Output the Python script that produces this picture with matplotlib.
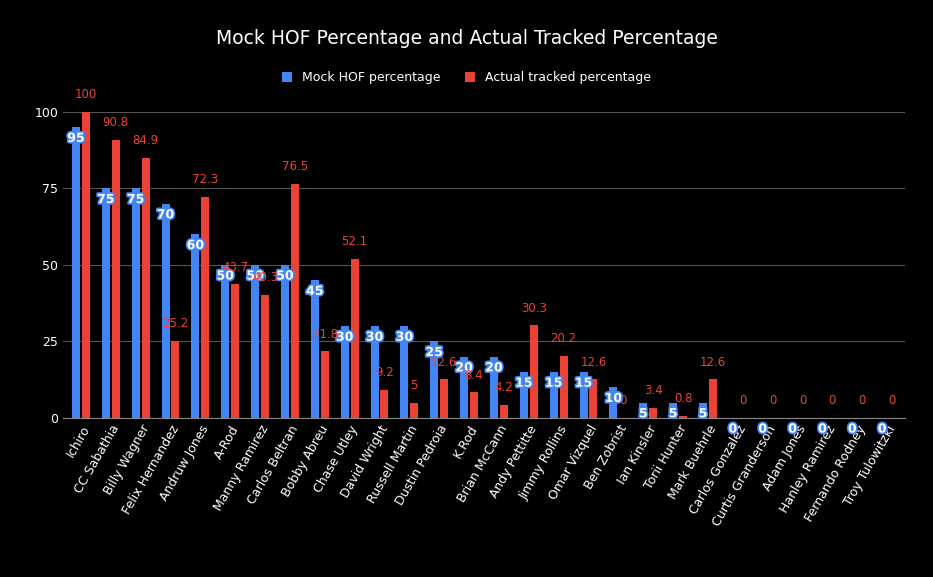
import numpy as np
import matplotlib.pyplot as plt
import matplotlib.patheffects as pe

players = ["Ichiro", "CC Sabathia", "Billy Wagner", "Felix Hernandez", "Andruw Jones",
           "A-Rod", "Manny Ramirez", "Carlos Beltran", "Bobby Abreu", "Chase Utley",
           "David Wright", "Russell Martin", "Dustin Pedroia", "K.Rod", "Brian McCann",
           "Andy Pettitte", "Jimmy Rollins", "Omar Vizquel", "Ben Zobrist", "Ian Kinsler",
           "Torii Hunter", "Mark Buehrle", "Carlos Gonzalez", "Curtis Granderson",
           "Adam Jones", "Hanley Ramirez", "Fernando Rodney", "Troy Tulowitzki"]
mock_pct = [95, 75, 75, 70, 60, 50, 50, 50, 45, 30, 30, 30, 25, 20, 20, 15, 15, 15,
            10, 5, 5, 5, 0, 0, 0, 0, 0, 0]
actual_pct = [100, 90.8, 84.9, 25.2, 72.3, 43.7, 40.3, 76.5, 21.8, 52.1, 9.2, 5, 12.6,
              8.4, 4.2, 30.3, 20.2, 12.6, 0, 3.4, 0.8, 12.6, 0, 0, 0, 0, 0, 0]

blue = "#4285F4"
red = "#EA4335"

fig = plt.figure(figsize=(9.33, 5.77), dpi=100, facecolor="black")
ax = fig.add_axes([0.0675, 0.2756, 0.9025, 0.5304], facecolor="black")

x = np.arange(len(players))
w = 0.27
ax.bar(x - w / 2 - 0.03, mock_pct, w, color=blue, label="Mock HOF percentage", zorder=3)
ax.bar(x + w / 2 + 0.03, actual_pct, w, color=red, label="Actual tracked percentage", zorder=3)

for i, v in enumerate(mock_pct):
    ax.text(x[i] - w / 2 - 0.03, v - 1.5, f"{v}", ha="center", va="top", color="white",
            fontsize=9, fontweight="bold", zorder=5, clip_on=False,
            path_effects=[pe.withStroke(linewidth=2.5, foreground=blue)])
for i, v in enumerate(actual_pct):
    ax.text(x[i] + w / 2 + 0.03, v + 3.5, f"{v:g}", ha="center", va="bottom", color=red,
            fontsize=8.5, zorder=5, clip_on=False)

ax.set_ylim(0, 100)
ax.set_xlim(-0.6, len(players) - 0.4)
ax.set_yticks([0, 25, 50, 75, 100])
ax.yaxis.grid(True, color="#555555", linewidth=0.8, zorder=0)
ax.tick_params(axis="y", colors="white", length=0, labelsize=9)
ax.tick_params(axis="x", colors="white", length=0, labelsize=9)
ax.set_xticks(x)
ax.set_xticklabels(players, rotation=60, ha="right", rotation_mode="anchor")
for s in ax.spines.values():
    s.set_visible(False)
ax.spines["bottom"].set_visible(True)
ax.spines["bottom"].set_color("#888888")

fig.suptitle("Mock HOF Percentage and Actual Tracked Percentage", color="white",
             fontsize=13.5, y=0.95)
leg = fig.legend(loc="center", bbox_to_anchor=(0.5, 0.865), ncol=2, frameon=False,
                 fontsize=9, labelcolor="white", handlelength=0.8, handleheight=0.8,
                 columnspacing=2)
fig.savefig("out.png", dpi=100, facecolor="black")
